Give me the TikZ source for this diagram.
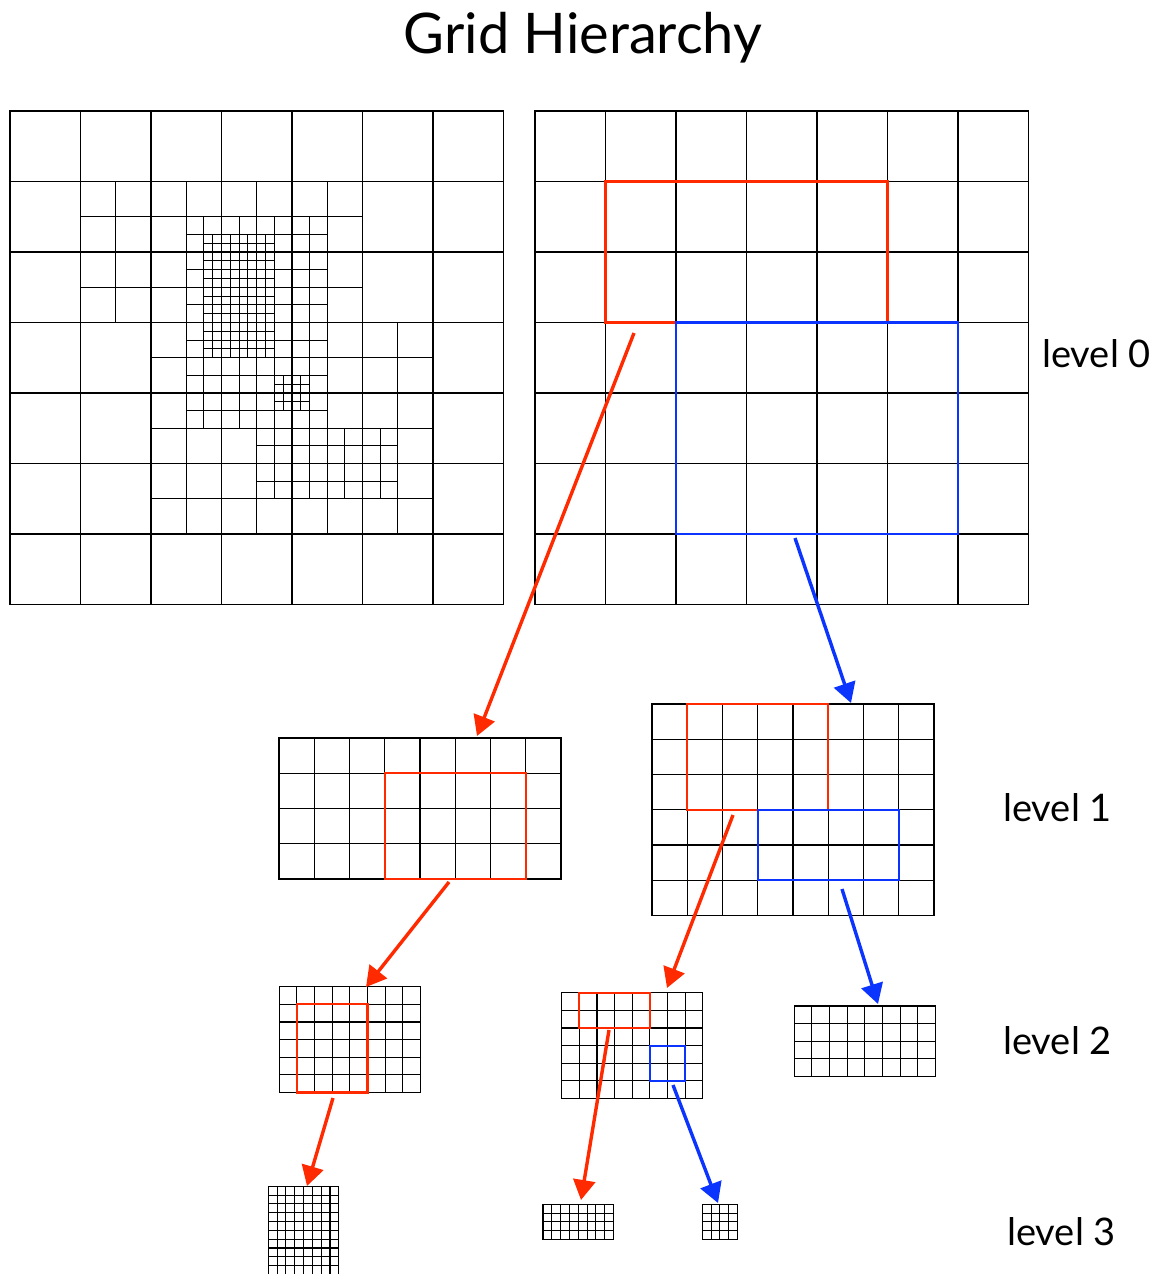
\documentclass[tikz,border=0pt]{standalone}
\usepackage{fontspec}
\setmainfont{Lato}
\usetikzlibrary{arrows.meta}
\definecolor{gred}{RGB}{255,42,0}
\definecolor{gblue}{RGB}{12,52,255}
\tikzset{
  gridline/.style={line width=1.1pt, black},
  patchbox/.style={draw, gridline, inner sep=0pt, outer sep=0pt, anchor=north west},
  redbox/.style={draw=gred, line width=2.2pt, inner sep=0pt, outer sep=0pt, anchor=north west},
  bluebox/.style={draw=gblue, line width=2.2pt, inner sep=0pt, outer sep=0pt, anchor=north west},
  redarrow/.style={draw=gred, line width=3.4pt, -{Triangle[length=20pt,width=22pt]}},
  bluearrow/.style={draw=gblue, line width=3.4pt, -{Triangle[length=20pt,width=22pt]}},
  lvl/.style={font=\fontsize{38}{42}\selectfont, inner sep=0pt, anchor=west},
}
% #1 name, #2 x, #3 y, #4 cols, #5 rows, #6 cell size
\newcommand\gpatch[6]{%
  \begin{scope}[shift={(#2,#3)}, x=#6pt, y=-#6pt]
    \foreach \gi in {0,...,#4} {\draw[gridline] (\gi,0) -- (\gi,#5);}
    \foreach \gj in {0,...,#5} {\draw[gridline] (0,\gj) -- (#4,\gj);}
  \end{scope}
  \node[patchbox, minimum width=#4*#6pt, minimum height=#5*#6pt] (#1) at (#2,#3) {};
}
% #1 name, #2 style, #3 x, #4 y, #5 w, #6 h
\newcommand\selbox[6]{%
  \node[#2, minimum width=#5pt, minimum height=#6pt] (#1) at (#3,#4) {};
}
\begin{document}
\begin{tikzpicture}[x=1pt,y=-1pt]
\useasboundingbox (0,0) rectangle (1163,1274);

% title
\node[font=\fontsize{56}{60}\selectfont, inner sep=0pt] (title) at (583,38) {Grid Hierarchy};

% ---- composite grid (left) ----
\gpatch{c0}{10}{111}{7}{7}{70.5}
\gpatch{c1a}{80.5}{181.5}{8}{4}{35.25}
\gpatch{c1b}{151}{322.5}{8}{6}{35.25}
\gpatch{c2a}{186.25}{216.75}{8}{6}{17.625}
\gpatch{c2b}{186.25}{322.5}{8}{6}{17.625}
\gpatch{c2c}{256.75}{428.25}{8}{4}{17.625}
\gpatch{c3a}{203.875}{234.375}{8}{10}{8.8125}
\gpatch{c3b}{203.875}{322.5}{8}{4}{8.8125}
\gpatch{c3c}{274.375}{375.375}{4}{4}{8.8125}

% ---- level 0 ----
\gpatch{g0}{535}{111}{7}{7}{70.5}
\selbox{r0}{redbox}{605.5}{181.5}{282}{141}
\selbox{b0}{bluebox}{676}{322.5}{282}{211.5}

% ---- level 1 ----
\gpatch{g1a}{279}{738}{8}{4}{35.25}
\selbox{r1a}{redbox}{384.75}{773.25}{141}{105.75}
\gpatch{g1b}{652}{704}{8}{6}{35.25}
\selbox{r1b}{redbox}{687.25}{704}{141}{105.75}
\selbox{b1b}{bluebox}{757.75}{809.75}{141}{70.5}

% ---- level 2 ----
\gpatch{g2a}{279.3}{986.7}{8}{6}{17.625}
\selbox{r2a}{redbox}{296.9}{1004.3}{70.5}{88.1}
\gpatch{g2b}{561.7}{992.7}{8}{6}{17.625}
\selbox{r2b}{redbox}{579.3}{992.7}{70.5}{35.25}
\selbox{b2b}{bluebox}{649.8}{1045.6}{35.25}{35.25}
\gpatch{g2c}{794.3}{1006}{8}{4}{17.625}

% ---- level 3 ----
\gpatch{g3a}{268.3}{1186.3}{8}{10}{8.8125}
\gpatch{g3b}{543}{1204.3}{8}{4}{8.8125}
\gpatch{g3c}{702.3}{1204.3}{4}{4}{8.8125}

% ---- arrows ----
\coordinate (a1s) at (634,333);   \coordinate (a1e) at (477,736);
\coordinate (a2s) at (795,538);   \coordinate (a2e) at (851,703);
\coordinate (a3s) at (449,882);   \coordinate (a3e) at (366,987);
\coordinate (a4s) at (733,815);   \coordinate (a4e) at (667,988);
\coordinate (a5s) at (842,889);   \coordinate (a5e) at (878,1004);
\coordinate (a6s) at (333,1098);  \coordinate (a6e) at (307,1186);
\coordinate (a7s) at (609,1030);  \coordinate (a7e) at (581,1200);
\coordinate (a8s) at (673,1085);  \coordinate (a8e) at (718,1203);
\draw[redarrow] (a1s) -- (a1e);
\draw[bluearrow] (a2s) -- (a2e);
\draw[redarrow] (a3s) -- (a3e);
\draw[redarrow] (a4s) -- (a4e);
\draw[bluearrow] (a5s) -- (a5e);
\draw[redarrow] (a6s) -- (a6e);
\draw[redarrow] (a7s) -- (a7e);
\draw[bluearrow] (a8s) -- (a8e);

% ---- level labels ----
\node[lvl] (lv0) at (1042,354) {level 0};
\node[lvl] (lv1) at (1003,808) {level 1};
\node[lvl] (lv2) at (1003,1041) {level 2};
\node[lvl] (lv3) at (1007,1232) {level 3};
\end{tikzpicture}
\end{document}
